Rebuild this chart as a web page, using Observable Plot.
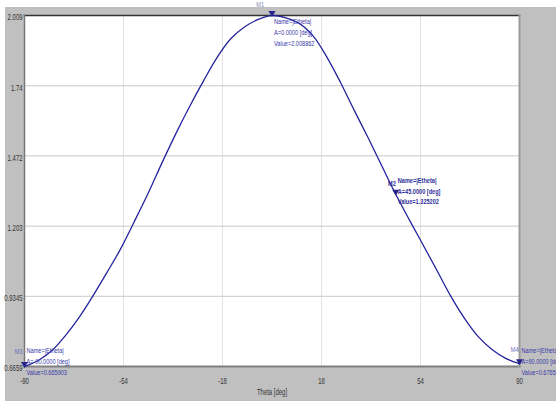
<!DOCTYPE html>
<html>
<head>
<meta charset="utf-8">
<script src="https://cdn.jsdelivr.net/npm/d3@7"></script>
<script src="https://cdn.jsdelivr.net/npm/@observablehq/plot@0.6"></script>
<style>
  html, body { margin: 0; padding: 0; background: #ffffff; }
  #chart { position: absolute; left: 5px; top: 7px; }
  #chart svg { background: #c0c0c0; display: block; }
</style>
</head>
<body>
<div id="chart"></div>
<script>
// ---- data ----
const theta = [-90,-85,-80,-75,-70,-65,-60,-55,-50,-45,-40,-35,-30,-25,-20,-15,-10,-5,0,
               5,10,15,20,25,30,35,40,45,50,55,60,65,70,75,80,85,90];
const etheta = [0.6659,0.689,0.727,0.786,0.856,0.938,1.026,1.117,1.222,1.330,1.445,1.556,1.660,1.757,1.848,1.920,1.965,1.994,2.0089,
                2.000,1.978,1.930,1.849,1.751,1.644,1.540,1.432,1.325,1.226,1.130,1.033,0.935,0.850,0.780,0.731,0.697,0.6765];
const xTicks = [-90, -54, -18, 18, 54, 90];
const yTicks = [0.6659, 0.9345, 1.203, 1.472, 1.74, 2.009];
const markerNames = ["M1", "M2", "M3", "M4"];
const markerTheta = [0, 45, -90, 90];
const markerValue = [2.008862, 1.325202, 0.665903, 0.676512];
const markerAngleText = ["0.0000", "45.0000", "-90.0000", "90.0000"];
const seriesName = "|Etheta|";
const xLabel = "Theta [deg]";

const curve = theta.map((t, i) => ({theta: t, v: etheta[i]}));
const markers = markerNames.map((m, i) => ({
  name: m, theta: markerTheta[i], v: markerValue[i],
  text: `Name=${seriesName}\nA=${markerAngleText[i]} [deg]\nValue=${markerValue[i].toFixed(6)}`
}));

const font = "'Liberation Sans', Arial, sans-serif";
const blue = "#3838a8";
const pick = (i) => [markers[i]];

const plot = Plot.plot({
  width: 551,
  height: 394,
  marginLeft: 19,
  marginRight: 37,
  marginTop: 8,
  marginBottom: 35,
  style: {fontFamily: font, fontSize: "8px", color: "#333", background: "#c0c0c0", overflow: "visible"},
  x: {domain: [-90, 90], label: null},
  y: {domain: [0.6659, 2.009], label: null},
  marks: [
    Plot.frame({fill: "white", stroke: null}),
    Plot.gridX(xTicks.slice(1, -1), {stroke: "#e2e2e2", strokeOpacity: 1}),
    Plot.gridY(yTicks.slice(1, -1), {stroke: "#c8c8c8", strokeOpacity: 1}),
    Plot.frame({anchor: "top", stroke: "#333", strokeWidth: 1.5}),
    Plot.frame({anchor: "left", stroke: "#777", strokeWidth: 1.5}),
    Plot.frame({anchor: "bottom", stroke: "#808080", strokeWidth: 2}),
    Plot.frame({anchor: "right", stroke: "#9a9a9a", strokeWidth: 2}),
    Plot.axisY(yTicks, {tickSize: 0, tickPadding: 2, dy: 2, tickFormat: d => String(d), fill: "#333", fontSize: 8.5, label: null}),
    Plot.axisX(xTicks, {tickSize: 0, tickPadding: 11, tickFormat: d => String(d), fill: "#333", fontSize: 8.5, label: null}),
    Plot.text([xLabel], {frameAnchor: "bottom", dy: 28, fill: "#333", fontSize: 8.5}),
    Plot.line(curve, {x: "theta", y: "v", stroke: "#24249c", strokeWidth: 1.3, curve: "catmull-rom"}),
    Plot.dot(markers, {x: "theta", y: "v", symbol: "triangle", rotate: 180, r: 2.6, fill: "#24248a", dy: -2.5}),
    // M1 (top)
    Plot.text(pick(0), {x: "theta", y: "v", text: "text", textAnchor: "start", lineAnchor: "top", dx: 2, dy: 0.5, fill: blue, lineHeight: 1.375}),
    Plot.text(pick(0), {x: "theta", y: "v", text: "name", textAnchor: "end", dx: -8, dy: -11, fill: "#8888bb"}),
    // M2
    Plot.text(pick(1), {x: "theta", y: "v", text: "text", textAnchor: "start", lineAnchor: "top", dx: 2, dy: -19.5, fill: "#30309a", fontWeight: "bold", lineHeight: 1.375}),
    Plot.text(pick(1), {x: "theta", y: "v", text: "name", textAnchor: "end", dx: 0, dy: -11, fill: "#30309a", fontWeight: "bold"}),
    // M3
    Plot.text(pick(2), {x: "theta", y: "v", text: "text", textAnchor: "start", lineAnchor: "top", dx: 2, dy: -21, fill: blue, lineHeight: 1.375}),
    Plot.text(pick(2), {x: "theta", y: "v", text: "name", textAnchor: "end", dx: -2, dy: -15, fill: "#6a6ab8"}),
    // M4
    Plot.text(pick(3), {x: "theta", y: "v", text: "text", textAnchor: "start", lineAnchor: "top", dx: 2, dy: -19, fill: blue, lineHeight: 1.375}),
    Plot.text(pick(3), {x: "theta", y: "v", text: "name", textAnchor: "end", dx: -1, dy: -14, fill: "#6a6ab8"})
  ]
});

// condensed glyphs like the reference (horizontal squeeze about each text's anchor)
const squeeze = 0.7;
plot.querySelectorAll("text").forEach(t => {
  const tr = t.getAttribute("transform") || "";
  const x0 = parseFloat(t.getAttribute("x")) || 0;
  t.setAttribute("transform", `${tr} translate(${x0},0) scale(${squeeze},1) translate(${-x0},0)`.trim());
});
document.getElementById("chart").appendChild(plot);
</script>
</body>
</html>
